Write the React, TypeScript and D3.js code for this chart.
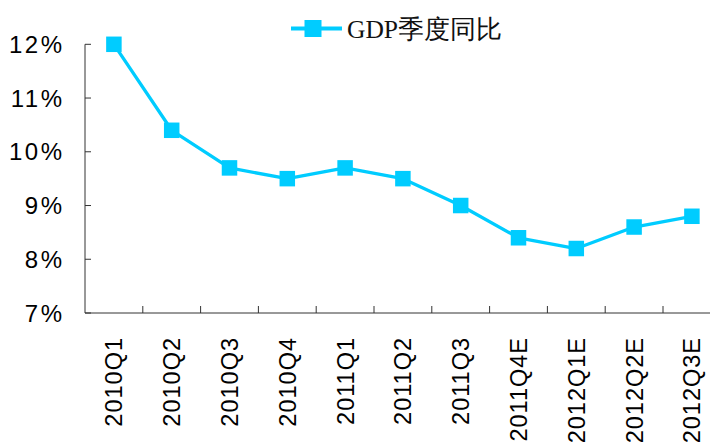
import React from "react";
import * as d3 from "d3";

const categories = ["2010Q1", "2010Q2", "2010Q3", "2010Q4", "2011Q1", "2011Q2", "2011Q3", "2011Q4E", "2012Q1E", "2012Q2E", "2012Q3E"];
const gdpYoY = [12.0, 10.4, 9.7, 9.5, 9.7, 9.5, 9.0, 8.4, 8.2, 8.6, 8.8];
const yTicks = [7, 8, 9, 10, 11, 12];
const seriesName = "GDP季度同比";

const W = 710;
const H = 446;
const left = 85;
const bandW = 57.8;
const top = 44.3;
const bottom = 313;
const color = "#00CCFF";
const axisColor = "#333";

export default function App() {
  const x = d3.scaleBand<string>().domain(categories).range([left, left + bandW * categories.length]);
  const y = d3.scaleLinear().domain([7, 12]).range([bottom, top]);
  const cx = (c: string) => (x(c) as number) + x.bandwidth() / 2;
  const line = d3.line<number>().x((_, i) => cx(categories[i])).y((d) => y(d));
  const ms = 15.5;

  return (
    <svg width={W} height={H} style={{ position: "fixed", left: 0, top: 0, background: "#fff" }}>
      <rect x={0} y={0} width={W} height={H} fill="#fff" />
      {/* axes */}
      <line x1={left} y1={top} x2={left} y2={bottom} stroke={axisColor} strokeWidth={1} />
      <line x1={left} y1={bottom} x2={W + 20} y2={bottom} stroke={axisColor} strokeWidth={1} />
      {yTicks.map((t) => (
        <g key={t}>
          <line x1={left} x2={left + 6} y1={y(t)} y2={y(t)} stroke={axisColor} strokeWidth={1} />
          <text
            transform={`translate(64.5,${y(t)})`}
            textAnchor="end"
            dy="0.36em"
            fontFamily="'Liberation Sans', Arial, sans-serif"
            fontSize={24}
            letterSpacing={2.5}
            fill="#000"
          >
            {t}%
          </text>
        </g>
      ))}
      {categories.map((c, i) => (
        <g key={c}>
          {i > 0 && (
            <line x1={x(c)} x2={x(c)} y1={bottom} y2={bottom - 7} stroke={axisColor} strokeWidth={1} />
          )}
          <text
            transform={`translate(${cx(c)},337) rotate(-90)`}
            textAnchor="end"
            dy="0.36em"
            fontFamily="'Liberation Sans', Arial, sans-serif"
            fontSize={23.5}
            letterSpacing={1}
            fill="#000"
          >
            {c}
          </text>
        </g>
      ))}
      {/* series */}
      <path d={line(gdpYoY) || ""} fill="none" stroke={color} strokeWidth={3.3} strokeLinejoin="round" />
      {gdpYoY.map((v, i) => (
        <rect key={i} x={cx(categories[i]) - ms / 2} y={y(v) - ms / 2} width={ms} height={ms} fill={color} />
      ))}
      {/* legend */}
      <line x1={291} x2={342} y1={28.5} y2={28.5} stroke={color} strokeWidth={4} />
      <rect x={313 - 8.5} y={28.5 - 8.5} width={17} height={17} fill={color} />
      <text
        x={347}
        y={28.5}
        dy="0.36em"
        fontFamily="'Liberation Serif', 'Times New Roman', serif"
        fontSize={25.5}
        fill="#111"
      >
        {seriesName}
      </text>
    </svg>
  );
}
